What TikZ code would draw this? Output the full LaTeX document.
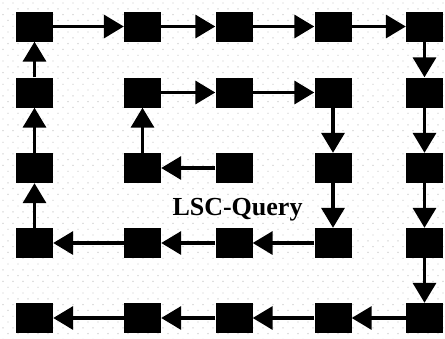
\documentclass[tikz,border=0pt]{standalone}
\usepackage{fontspec}
\setmainfont{Liberation Serif}
\usetikzlibrary{arrows.meta}

\begin{document}
\begin{tikzpicture}[x=1pt,y=-1pt,
		blk/.style={rectangle,fill=black,minimum width=37pt,minimum height=30pt,inner sep=0pt},
		>={Triangle[length=20pt,width=23pt]}]
		\useasboundingbox (0,0) rectangle (445,338);
		% dotted paper
		\foreach \j in {0,...,58} {
			\pgfmathsetmacro{\off}{mod(\j,2)*5}
			\foreach \i in {0,...,44}
				\fill [gray!45] (\i*10+\off+3,\j*5.8+3) circle (0.7pt);
		}
		% row 1
		\node [blk] (11) at (34.5, 26.5) {};
		\node [blk] (12) at (142.5, 26.5) {};
		\node [blk] (13) at (234, 26.5) {};
		\node [blk] (14) at (333, 26.5) {};
		\node [blk] (15) at (424.5, 26.5) {};
		% row 2
		\node [blk] (21) at (34.5, 92.5) {};
		\node [blk] (22) at (142.5, 92.5) {};
		\node [blk] (23) at (234, 92.5) {};
		\node [blk] (24) at (333, 92.5) {};
		\node [blk] (25) at (424.5, 92.5) {};
		% row 3
		\node [blk] (31) at (34.5, 168) {};
		\node [blk] (32) at (142.5, 168) {};
		\node [blk] (33) at (234, 168) {};
		\node [blk] (34) at (333, 168) {};
		\node [blk] (35) at (424.5, 168) {};
		% row 4
		\node [blk] (41) at (34.5, 243) {};
		\node [blk] (42) at (142.5, 243) {};
		\node [blk] (43) at (234, 243) {};
		\node [blk] (44) at (333, 243) {};
		\node [blk] (45) at (424.5, 243) {};
		% row 5
		\node [blk] (51) at (34.5, 318) {};
		\node [blk] (52) at (142.5, 318) {};
		\node [blk] (53) at (234, 318) {};
		\node [blk] (54) at (333, 318) {};
		\node [blk] (55) at (424.5, 318) {};

		\node [anchor=base] (lsc) at (237.5, 215) {\fontsize{26}{26}\selectfont\bfseries LSC-Query};

		\begin{scope}[line width=3.5pt]
		% inner part of the spiral
		\draw [->] (33) to (32);
		\draw [->] (32) to (22);
		\draw [->] (22) to (23);
		\draw [->] (23) to (24);
		\draw [->] (24) to (34);
		\draw [->] (34) to (44);
		\draw [->] (44) to (43);
		\draw [->] (43) to (42);
		\draw [->] (42) to (41);
		% outer part
		\draw [->] (41) to (31);
		\draw [->] (31) to (21);
		\draw [->] (21) to (11);
		\draw [->] (11) to (12);
		\draw [->] (12) to (13);
		\draw [->] (13) to (14);
		\draw [->] (14) to (15);
		\draw [->] (15) to (25);
		\draw [->] (25) to (35);
		\draw [->] (35) to (45);
		\draw [->] (45) to (55);
		\draw [->] (55) to (54);
		\draw [->] (54) to (53);
		\draw [->] (53) to (52);
		\draw [->] (52) to (51);
		\end{scope}
\end{tikzpicture}
\end{document}
